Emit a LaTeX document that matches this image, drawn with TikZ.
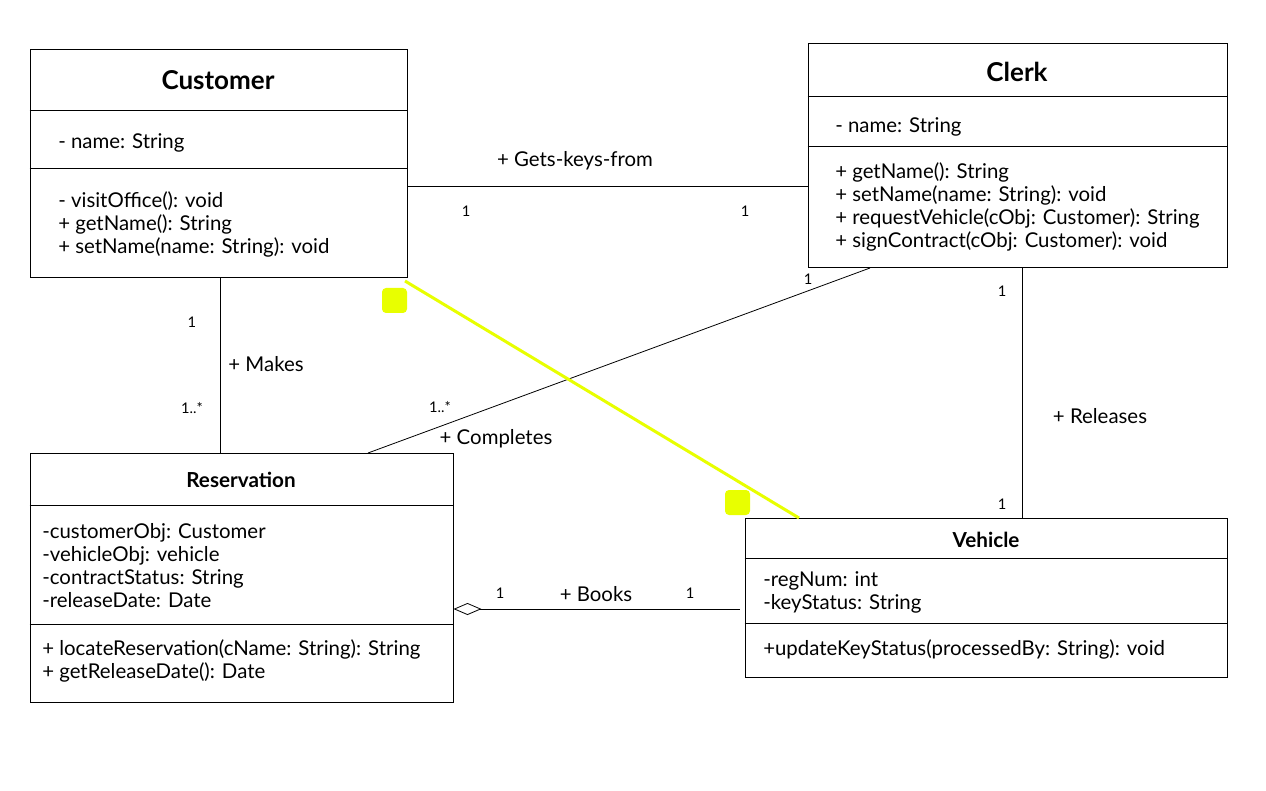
\documentclass[tikz,border=0pt]{standalone}
\usepackage{fontspec}
\setmainfont{Lato}
\usetikzlibrary{arrows.meta,calc,fit}
\definecolor{selyellow}{RGB}{232,255,0}
\begin{document}
\begin{tikzpicture}[x=0.75pt,y=-0.75pt,
  umlbox/.style={draw=black,line width=0.75pt,rectangle,inner sep=0pt},
  divider/.style={draw=black,line width=0.75pt},
  txt/.style={anchor=mid west,inner sep=0pt,yshift=-2.25pt,font=\fontsize{15.3}{18}\selectfont},
  bigtitle/.style={inner sep=0pt,font=\fontsize{19.5}{23}\selectfont\bfseries},
  smalltitle/.style={inner sep=0pt,font=\fontsize{15.5}{18}\selectfont\bfseries},
  assoc/.style={draw=black,line width=0.6pt},
  lbl/.style={inner sep=0pt,yshift=-1.5pt,font=\fontsize{15.3}{18}\selectfont},
  mult/.style={inner sep=0pt,font=\fontsize{11}{13}\selectfont},
  handle/.style={fill=selyellow,rounded corners=3pt,draw=none}
]
\useasboundingbox[fill=white] (0,0) rectangle (1266,791);

% ---------- box outlines ----------
\coordinate (c1) at (30,50);   \coordinate (c2) at (407,278);
\coordinate (k1) at (808,44);  \coordinate (k2) at (1227,268);
\coordinate (r1) at (30,453);  \coordinate (r2) at (453,702);
\coordinate (v1) at (745,518); \coordinate (v2) at (1227,677);
\node[umlbox,fit=(c1)(c2)] (cust) {};
\node[umlbox,fit=(k1)(k2)] (clerk) {};
\node[umlbox,fit=(r1)(r2)] (res) {};
\node[umlbox,fit=(v1)(v2)] (veh) {};

% dividers
\draw[divider] (cust.west |- 0,111) -- (cust.east |- 0,111);
\draw[divider] (cust.west |- 0,169) -- (cust.east |- 0,169);
\draw[divider] (clerk.west |- 0,97) -- (clerk.east |- 0,97);
\draw[divider] (clerk.west |- 0,147) -- (clerk.east |- 0,147);
\draw[divider] (res.west |- 0,505) -- (res.east |- 0,505);
\draw[divider] (res.west |- 0,624) -- (res.east |- 0,624);
\draw[divider] (veh.west |- 0,558) -- (veh.east |- 0,558);
\draw[divider] (veh.west |- 0,623) -- (veh.east |- 0,623);

% ---------- Customer ----------
\node[bigtitle] (custT) at (218,80) {Customer};
\node[txt] (custA1) at (58,142) {- name: String};
\node[txt] (custM1) at (58,201) {- visitOffice(): void};
\node[txt] (custM2) at (58,224) {+ getName(): String};
\node[txt] (custM3) at (58,247) {+ setName(name: String): void};

% ---------- Clerk ----------
\node[bigtitle] (clerkT) at (1017,72) {Clerk};
\node[txt] (clerkA1) at (835,126) {- name: String};
\node[txt] (clerkM1) at (835,172) {+ getName(): String};
\node[txt] (clerkM2) at (835,195) {+ setName(name: String): void};
\node[txt] (clerkM3) at (835,218) {+ requestVehicle(cObj: Customer): String};
\node[txt] (clerkM4) at (835,241) {+ signContract(cObj: Customer): void};

% ---------- Reservation ----------
\node[smalltitle] (resT) at (241,480) {Reservation};
\node[txt] (resA1) at (42,532) {-customerObj: Customer};
\node[txt] (resA2) at (42,555) {-vehicleObj: vehicle};
\node[txt] (resA3) at (42,578) {-contractStatus: String};
\node[txt] (resA4) at (42,601) {-releaseDate: Date};
\node[txt] (resM1) at (42,649) {+ locateReservation(cName: String): String};
\node[txt] (resM2) at (42,672) {+ getReleaseDate(): Date};

% ---------- Vehicle ----------
\node[smalltitle] (vehT) at (986,540) {Vehicle};
\node[txt] (vehA1) at (763,580) {-regNum: int};
\node[txt] (vehA2) at (763,603) {-keyStatus: String};
\node[txt] (vehM1) at (763,649) {+updateKeyStatus(processedBy: String): void};

% ---------- connectors ----------
\coordinate (xMakes) at (220,0);
\coordinate (xRel) at (1022,0);
\coordinate (yKeys) at (0,186);
\coordinate (yBooks) at (0,609);
\coordinate (pComp1) at (870,268);
\coordinate (pComp2) at (368,453);
\coordinate (pSel1) at (405,281);
\coordinate (pSel2) at (799,518);

% Gets-keys-from
\draw[assoc] (cust.east |- yKeys) -- (clerk.west |- yKeys);
\node[lbl] (lKeys) at (575,159) {+ Gets-keys-from};
\node[mult] (mKeys1) at (466,211) {1};
\node[mult] (mKeys2) at (745,211) {1};

% Makes
\draw[assoc] (cust.south -| xMakes) -- (res.north -| xMakes);
\node[lbl] (lMakes) at (266,362) {+ Makes};
\node[mult] (mMakes1) at (192,322) {1};
\node[mult] (mMakes2) at (192,408) {1..*};

% Completes
\draw[assoc] (pComp1) -- (pComp2);
\node[lbl] (lComp) at (496,437) {+ Completes};
\node[mult] (mComp1) at (808,279) {1};
\node[mult] (mComp2) at (440,407) {1..*};

% Releases
\draw[assoc] (clerk.south -| xRel) -- (veh.north -| xRel);
\node[lbl] (lRel) at (1100,414) {+ Releases};
\node[mult] (mRel1) at (1002,291) {1};
\node[mult] (mRel2) at (1002,504) {1};

% Books (aggregation)
\draw[assoc,{Diamond[open,length=21pt,width=9pt,line width=0.6pt]}-] (res.east |- yBooks) -- ($(veh.west |- yBooks)+(-5,0)$);
\node[lbl] (lBooks) at (596,592) {+ Books};
\node[mult] (mBooks1) at (500,593) {1};
\node[mult] (mBooks2) at (690,593) {1};

% selected connector (yellow) with handles
\draw[selyellow,line width=2.25pt] (pSel1) -- (pSel2);
\path[handle] (382,288) rectangle (407,313);
\path[handle] (725,490) rectangle (750,515);
\end{tikzpicture}
\end{document}
